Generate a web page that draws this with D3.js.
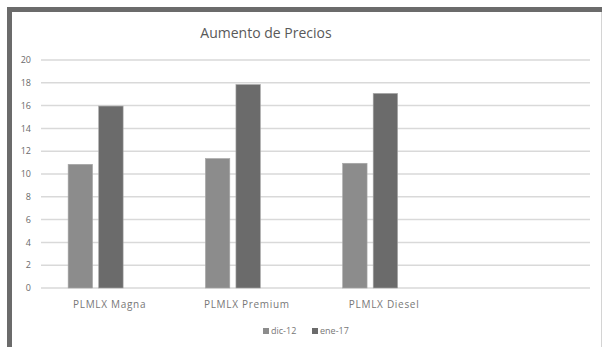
<!DOCTYPE html>
<html>
<head>
<meta charset="utf-8">
<script src="https://cdn.jsdelivr.net/npm/d3@7"></script>
<style>
  body { margin: 0; background: #fff; }
  text { font-family: "Open Sans", sans-serif; fill: #6a6a6a; }
</style>
</head>
<body>
<script>
// data
let categories = ["PLMLX Magna", "PLMLX Premium", "PLMLX Diesel"];
let series = ["dic-12", "ene-17"];
let dic12 = [10.85, 11.36, 10.94];
let ene17 = [15.96, 17.85, 17.07];
let yTicks = [0, 2, 4, 6, 8, 10, 12, 14, 16, 18, 20];
let title = "Aumento de Precios";

let colours = ["#8c8c8c", "#6b6b6b"];
let width = 603, height = 347;

let svg = d3.select("body").append("svg")
  .attr("width", width)
  .attr("height", height);

// chart frame
svg.append("rect")
  .attr("x", 9.5).attr("y", 9.5)
  .attr("width", 592).attr("height", 360)
  .attr("fill", "#fff")
  .attr("stroke", "#d4d4d4")
  .attr("stroke-width", 1);
svg.append("rect").attr("x", 7).attr("y", 7).attr("width", 595).attr("height", 5).attr("fill", "#6b6b6b");
svg.append("rect").attr("x", 7).attr("y", 7).attr("width", 5).attr("height", 340).attr("fill", "#6b6b6b");

// scales (4th slot is the empty space on the right)
let x0 = d3.scaleBand()
  .domain(categories.concat([" "]))
  .range([27, 576]);
let step = x0.bandwidth();
let x1 = d3.scaleBand()
  .domain(series)
  .range([(step - 55) / 2, (step + 55) / 2])
  .paddingInner(0.2);
let y = d3.scaleLinear()
  .domain([0, 20])
  .range([288, 60]);

// gridlines
svg.append("g").selectAll("line")
  .data(yTicks)
  .enter().append("line")
  .attr("x1", 41).attr("x2", 590)
  .attr("y1", d => y(d)).attr("y2", d => y(d))
  .attr("stroke", "#d9d9d9")
  .attr("stroke-width", 1.5);

// y labels
svg.append("g").selectAll("text")
  .data(yTicks)
  .enter().append("text")
  .attr("x", 31)
  .attr("y", d => y(d))
  .attr("dy", "0.35em")
  .attr("text-anchor", "end")
  .style("font-size", "9px")
  .text(d => d);

// bars
let rows = categories.map((c, i) => ({cat: c, vals: [dic12[i], ene17[i]]}));
let groups = svg.append("g").selectAll("g")
  .data(rows)
  .enter().append("g")
  .attr("transform", d => "translate(" + x0(d.cat) + ",0)");
groups.selectAll("rect")
  .data(d => d.vals.map((v, i) => ({s: series[i], v: v, i: i})))
  .enter().append("rect")
  .attr("x", d => x1(d.s))
  .attr("y", d => y(d.v))
  .attr("width", x1.bandwidth())
  .attr("height", d => y(0) - y(d.v))
  .attr("fill", d => colours[d.i])
  .attr("stroke", "#a8a8a8")
  .attr("stroke-width", 0.6);

// category labels (sit a bit right of the bars in the original)
svg.append("g").selectAll("text")
  .data(categories)
  .enter().append("text")
  .attr("x", d => x0(d) + step / 2 + 14)
  .attr("y", 304)
  .attr("dy", "0.35em")
  .attr("text-anchor", "middle")
  .style("font-size", "10px")
  .style("letter-spacing", "0.7px")
  .style("fill", "#777")
  .text(d => d);

// title
svg.append("text")
  .attr("x", 266)
  .attr("y", 33)
  .attr("dy", "0.35em")
  .attr("text-anchor", "middle")
  .style("font-size", "14px")
  .style("fill", "#595959")
  .text(title);

// legend
let legend = svg.append("g").selectAll("g")
  .data(series)
  .enter().append("g")
  .attr("transform", (d, i) => "translate(" + (263 + i * 49) + ",331)");
legend.append("rect")
  .attr("x", 0).attr("y", -3)
  .attr("width", 6).attr("height", 6)
  .attr("fill", (d, i) => colours[i]);
legend.append("text")
  .attr("x", 8)
  .attr("dy", "0.35em")
  .style("font-size", "9px")
  .style("fill", "#777")
  .text(d => d);
</script>
</body>
</html>
